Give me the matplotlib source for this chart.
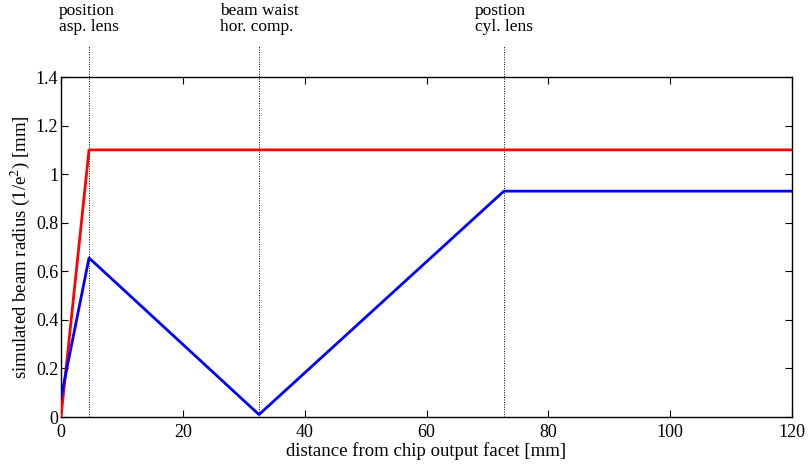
import matplotlib
matplotlib.use('Agg')
import matplotlib.pyplot as plt

plt.rcParams['font.family'] = ['Liberation Serif', 'DejaVu Serif']
plt.rcParams['mathtext.fontset'] = 'stix'

# beam radius vs. propagation distance (mm)
red_x = [0, 4.6, 120]
red_y = [0.0, 1.1, 1.1]

blue_x = [0, 4.6, 32.5, 72.7, 120]
blue_y = [0.08, 0.655, 0.01, 0.93, 0.93]

# marker positions and their captions
marks_x = [4.6, 32.5, 72.7]
marks_txt = ['position\nasp. lens', 'beam waist\nhor. comp.', 'postion\ncyl. lens']

fig = plt.figure(figsize=(8.09, 4.69), dpi=100)
ax = fig.add_axes([61 / 809, 1 - 417 / 469, 731 / 809, 340 / 469])

ax.plot(red_x, red_y, color='#ff0000', lw=2.0, zorder=3)
ax.plot(blue_x, blue_y, color='#0000ff', lw=2.0, zorder=3)

for xm, txt in zip(marks_x, marks_txt):
    ax.plot([xm, xm], [0, 1.528], color='black', lw=0.7, ls=(0, (1, 1.5)),
            clip_on=False, zorder=2)
    ax.text(xm, 1.705, txt, ha='center', va='top', multialignment='left',
            fontsize=12.5, linespacing=1.0)

ax.set_xlim(0, 120)
ax.set_ylim(0, 1.4)
ax.set_xticks([0, 20, 40, 60, 80, 100, 120])
ax.set_xticklabels(['0', '20', '40', '60', '80', '100', '120'])
ax.set_yticks([0, 0.2, 0.4, 0.6, 0.8, 1.0, 1.2, 1.4])
ax.set_yticklabels(['0', '0.2', '0.4', '0.6', '0.8', '1', '1.2', '1.4'])
ax.tick_params(direction='in', top=True, right=True, length=5, width=0.8,
               labelsize=13, pad=2)
ax.tick_params(axis='x', pad=5)
for sp in ax.spines.values():
    sp.set_linewidth(1.0)

ax.set_xlabel('distance from chip output facet [mm]', fontsize=13.5, labelpad=1)
ax.set_ylabel('simulated beam radius (1/e$^2$) [mm]', fontsize=13.5, labelpad=3)

fig.savefig('out.png', dpi=100)
